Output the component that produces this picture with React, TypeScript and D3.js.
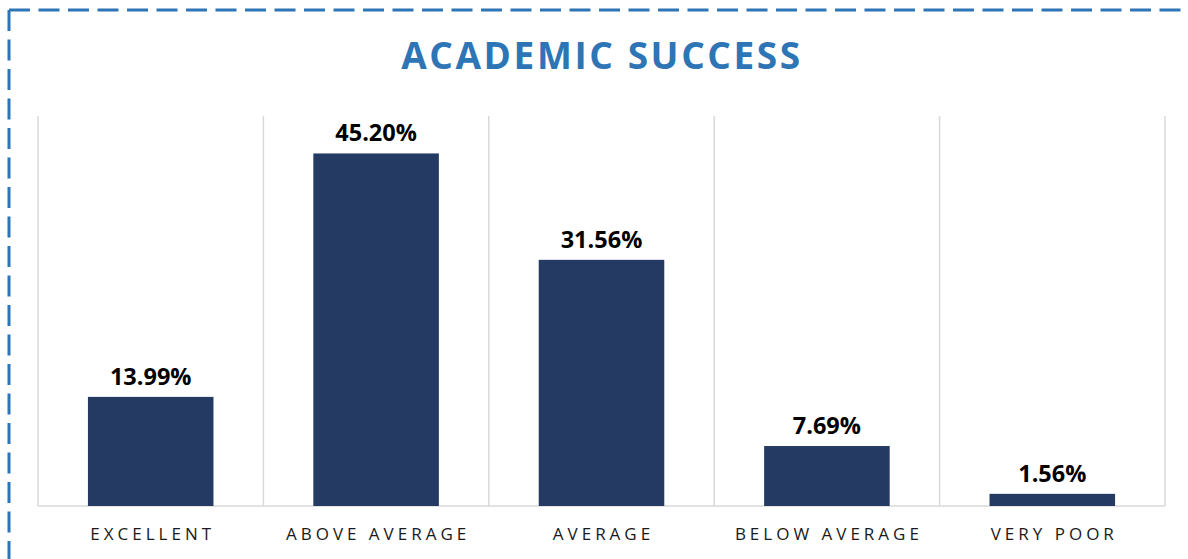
import React from "react";
import * as d3 from "d3";

const categories = ["EXCELLENT", "ABOVE AVERAGE", "AVERAGE", "BELOW AVERAGE", "VERY POOR"];
const values = [13.99, 45.2, 31.56, 7.69, 1.56];
const valueLabels = ["13.99%", "45.20%", "31.56%", "7.69%", "1.56%"];
const title = "ACADEMIC SUCCESS";

const W = 1188;
const H = 559;
const plot = { left: 38, right: 1165, top: 116, bottom: 506 };

export default function App() {
  const x = d3
    .scaleBand<string>()
    .domain(categories)
    .range([plot.left, plot.right])
    .paddingInner(0)
    .paddingOuter(0);
  const barW = x.bandwidth() * 0.557;
  const y = d3.scaleLinear().domain([0, 50]).range([plot.bottom, plot.top]);
  const gridXs = categories.map((c) => x(c) as number).concat([plot.right]);

  return (
    <svg
      width={W}
      height={H}
      style={{ position: "absolute", left: 0, top: 0, display: "block", background: "#fff" }}
    >
      <rect x={0} y={0} width={W} height={H} fill="#fff" />
      {/* dashed border */}
      <path d={`M9,10 H${W + 20}`} stroke="#2E75B6" strokeWidth={3} strokeDasharray="21,8.5" fill="none" />
      <path d={`M9,10 V${H + 20}`} stroke="#2E75B6" strokeWidth={3} strokeDasharray="21,8.5" fill="none" />

      {/* title */}
      <text
        x={602}
        y={69}
        textAnchor="middle"
        fontFamily="'Open Sans', sans-serif"
        fontWeight={700}
        fontSize={37}
        letterSpacing={2.6}
        fill="#2E75B6"
      >
        {title}
      </text>

      {/* vertical gridlines */}
      {gridXs.map((gx, i) => (
        <line key={i} x1={gx} x2={gx} y1={plot.top} y2={plot.bottom} stroke="#d9d9d9" strokeWidth={1.5} />
      ))}
      {/* baseline */}
      <line x1={plot.left} x2={plot.right} y1={plot.bottom} y2={plot.bottom} stroke="#d9d9d9" strokeWidth={1.5} />

      {/* bars */}
      {categories.map((c, i) => {
        const cx = (x(c) as number) + x.bandwidth() / 2;
        return (
          <g key={c}>
            <rect
              x={cx - barW / 2}
              y={y(values[i])}
              width={barW}
              height={plot.bottom - y(values[i])}
              fill="#243A63"
            />
            <text
              x={cx}
              y={y(values[i]) - 12}
              textAnchor="middle"
              fontFamily="'Open Sans', sans-serif"
              fontWeight={700}
              fontSize={23.5}
              fill="#000"
            >
              {valueLabels[i]}
            </text>
            <text
              x={cx + 2}
              y={540}
              textAnchor="middle"
              fontFamily="'Open Sans', sans-serif"
              fontSize={17}
              letterSpacing={4}
              fill="#1a1a1a"
            >
              {c}
            </text>
          </g>
        );
      })}
    </svg>
  );
}
